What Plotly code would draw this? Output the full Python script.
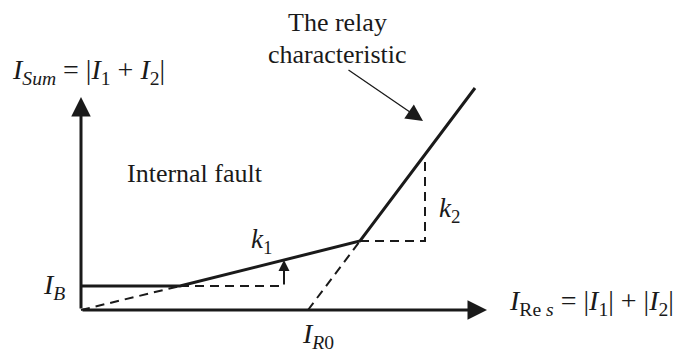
import plotly.graph_objects as go

# coordinates in drawing units (1 unit = 1 px), origin at the axes' corner
axis_x_end = 406
axis_y_end = 213

curve_x = [0, 99, 279, 394]
curve_y = [24, 24, 69, 222]

k1_ext_x = [0, 99]
k1_ext_y = [0, 24]

k2_ext_x = [227, 279]
k2_ext_y = [0, 69]

k1_step_x = [99, 203]
k1_step_y = [24, 24]

k2_step_x = [279, 344, 344]
k2_step_y = [69, 69, 155]

k1_arrow_x = 203
k1_arrow_y = [24, 50]

pointer_x = [266, 342]
pointer_y = [241, 189]

INK = '#1a1a1a'
FONT = '"Liberation Serif", "Times New Roman", "DejaVu Serif", serif'

fig = go.Figure()

# dashed extensions and slope triangles
for xs, ys in [(k1_ext_x, k1_ext_y), (k2_ext_x, k2_ext_y),
               (k1_step_x, k1_step_y), (k2_step_x, k2_step_y)]:
    fig.add_trace(go.Scatter(
        x=xs, y=ys, mode='lines',
        line=dict(color=INK, width=2, dash='9px,6px'),
        hoverinfo='skip', showlegend=False
    ))

# relay characteristic
fig.add_trace(go.Scatter(
    x=curve_x, y=curve_y, mode='lines',
    line=dict(color=INK, width=3),
    hoverinfo='skip', showlegend=False
))

# axes with arrow heads
arrows = [
    dict(x=axis_x_end, y=0, ax=0, ay=0, arrowwidth=3, arrowsize=1.3),
    dict(x=0, y=axis_y_end, ax=0, ay=0, arrowwidth=3, arrowsize=1.3),
    dict(x=k1_arrow_x, y=k1_arrow_y[1], ax=k1_arrow_x, ay=k1_arrow_y[0],
         arrowwidth=2, arrowsize=1.1),
    dict(x=pointer_x[1], y=pointer_y[1], ax=pointer_x[0], ay=pointer_y[0],
         arrowwidth=1.3, arrowsize=2.6),
]
for a in arrows:
    fig.add_annotation(
        text='', xref='x', yref='y', axref='x', ayref='y',
        showarrow=True, arrowhead=2, arrowcolor=INK, standoff=0, **a
    )

labels = [
    (114, 137, 'Internal fault', 26),
    (256, 288, 'The relay', 26),
    (256, 256, 'characteristic', 26),
    (180, 69, '<i>k</i><sub>1</sub>', 27),
    (368, 100, '<i>k</i><sub>2</sub>', 27),
    (-27, 24, '<i>I</i><sub><i>B</i></sub>', 28),
    (237, -25, '<i>I</i><sub><i>R</i>0</sub>', 28),
    (7, 239, '<i>I</i><sub><i>Sum</i></sub> = |<i>I</i><sub>1</sub> + <i>I</i><sub>2</sub>|', 28),
    (510, 8, '<i>I</i><sub>Re <i>s</i></sub> = |<i>I</i><sub>1</sub>| + |<i>I</i><sub>2</sub>|', 28),
]
for x, y, t, s in labels:
    fig.add_annotation(
        x=x, y=y, text=t, showarrow=False,
        font=dict(family=FONT, size=s, color=INK)
    )

# page body keeps an 8px margin, so the figure is trimmed by that much
fig.update_layout(
    width=681, height=348,
    margin=dict(l=0, r=0, t=0, b=0),
    paper_bgcolor='white', plot_bgcolor='white',
    xaxis=dict(visible=False, range=[-73, 608]),
    yaxis=dict(visible=False, range=[-46, 302]),
)

fig.write_html("out.html")
